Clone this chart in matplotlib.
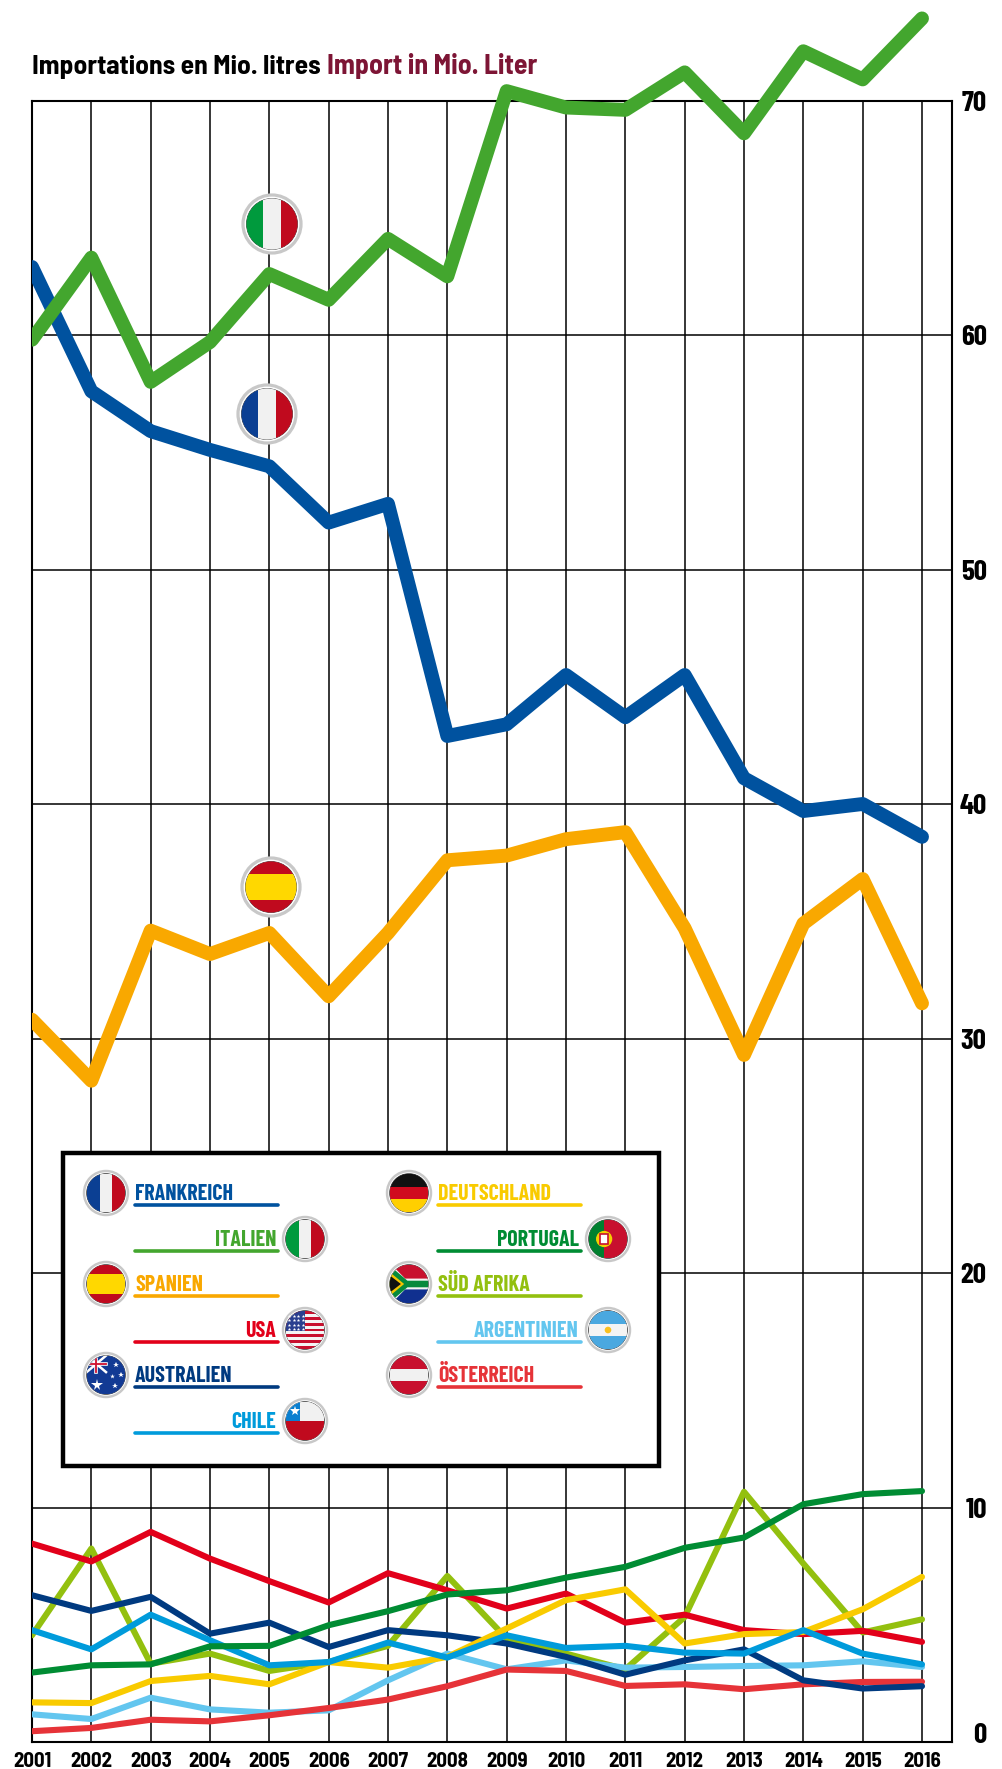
import numpy as np
import matplotlib
matplotlib.use("Agg")
import matplotlib.pyplot as plt
from matplotlib.patches import Circle, Rectangle, Polygon
from matplotlib.transforms import Bbox, TransformedBbox, ScaledTranslation

FONT = ["Barlow Condensed", "Archivo Narrow", "Liberation Sans", "DejaVu Sans"]
FONT_WIDE = ["Barlow Semi Condensed", "Barlow Condensed", "Liberation Sans", "DejaVu Sans"]

years = list(range(2001, 2017))
y_ticks = [0, 10, 20, 30, 40, 50, 60, 70]

italy = [59.8, 63.3, 58.0, 59.7, 62.6, 61.5, 64.1, 62.5, 70.4, 69.7, 69.6, 71.2, 68.6, 72.1, 70.9, 73.5]
france = [62.9, 57.6, 55.9, 55.1, 54.4, 52.0, 52.8, 42.9, 43.4, 45.5, 43.7, 45.5, 41.1, 39.7, 40.0, 38.6]
spain = [30.8, 28.2, 34.6, 33.6, 34.5, 31.8, 34.5, 37.6, 37.8, 38.5, 38.8, 34.7, 29.3, 34.9, 36.8, 31.5]
usa = [8.46, 7.7, 8.96, 7.82, 6.86, 5.95, 7.2, 6.47, 5.69, 6.33, 5.09, 5.43, 4.77, 4.6, 4.74, 4.27]
australia = [6.26, 5.59, 6.19, 4.62, 5.09, 4.05, 4.77, 4.55, 4.2, 3.63, 2.87, 3.48, 3.95, 2.63, 2.28, 2.38]
chile = [4.77, 3.95, 5.43, 4.34, 3.27, 3.41, 4.24, 3.6, 4.55, 4.01, 4.1, 3.81, 3.77, 4.77, 3.77, 3.31]
south_africa = [4.55, 8.25, 3.34, 3.77, 3.03, 3.41, 4.1, 7.08, 4.41, 3.77, 3.1, 5.33, 10.67, 7.61, 4.67, 5.23]
portugal = [2.96, 3.27, 3.31, 4.08, 4.1, 4.98, 5.58, 6.29, 6.47, 7.01, 7.47, 8.28, 8.72, 10.14, 10.57, 10.7]
germany = [1.69, 1.66, 2.6, 2.82, 2.46, 3.41, 3.17, 3.63, 4.84, 6.05, 6.51, 4.2, 4.6, 4.69, 5.66, 7.04]
argentina = [1.18, 0.98, 1.89, 1.39, 1.25, 1.35, 2.63, 3.77, 3.1, 3.48, 3.17, 3.2, 3.24, 3.27, 3.44, 3.2]
austria = [0.46, 0.6, 0.95, 0.88, 1.14, 1.45, 1.81, 2.38, 3.09, 3.03, 2.39, 2.46, 2.25, 2.46, 2.56, 2.57]

C_FR, C_IT, C_ES = "#00529f", "#43a62e", "#f9a800"
C_US, C_AU, C_CL = "#e2001a", "#003a80", "#009bdb"
C_DE, C_PT, C_ZA = "#f9cb00", "#008c33", "#93c00f"
C_AR, C_AT = "#63c6ef", "#e63338"

W, H = 1003, 1769
fig = plt.figure(figsize=(W / 100, H / 100), dpi=100, facecolor="white")

# main chart
ax = fig.add_axes([32 / W, 1 - 1742 / H, (952 - 32) / W, (1742 - 100.5) / H])
x_right = 2001 + (952 - 32) / ((922 - 32) / 15)
ax.set_xlim(2001, x_right)
ax.set_ylim(0, 70)
ax.set_xticks(years)
ax.set_yticks(y_ticks)
ax.grid(True, color="black", lw=1.1)
ax.set_axisbelow(True)
ax.tick_params(length=0)
ax.xaxis.tick_bottom()
ax.yaxis.tick_right()
ax.tick_params(axis="x", pad=7)
ax.tick_params(axis="y", pad=25)
for s in ax.spines.values():
    s.set_linewidth(1.5)
for lab in ax.get_xticklabels():
    lab.set(family=FONT_WIDE, weight="bold", fontsize=15)
for lab in ax.get_yticklabels():
    lab.set(family=FONT, weight="bold", fontsize=21, ha="right")
# the 0 label sits a little above the axis line
zero = ax.get_yticklabels()[0]
zero.set_transform(zero.get_transform() + ScaledTranslation(0, 9 / 100, fig.dpi_scale_trans))

# lines may run over the top of the frame but are cut at the left edge
clip = TransformedBbox(Bbox([[2001, -5], [2018, 90]]), ax.transData)


def draw(vals, color, lw):
    line, = ax.plot(years, vals, color=color, lw=lw, solid_capstyle="round",
                    solid_joinstyle="round", zorder=3)
    line.set_clip_box(clip)


for vals, color in [(south_africa, C_ZA), (argentina, C_AR), (austria, C_AT),
                    (usa, C_US), (australia, C_AU), (germany, C_DE),
                    (chile, C_CL), (portugal, C_PT)]:
    draw(vals, color, 4.4)
for vals, color in [(spain, C_ES), (france, C_FR), (italy, C_IT)]:
    draw(vals, color, 10)

# overlay in pixel coordinates for title, legend box and flags
ov = fig.add_axes([0, 0, 1, 1], zorder=5)
ov.set_xlim(0, W)
ov.set_ylim(H, 0)
ov.axis("off")
ov.patch.set_alpha(0)

ov.text(32, 74, "Importations en Mio. litres", family=FONT_WIDE, weight="bold",
        fontsize=19.7, color="black", va="baseline")
ov.text(327, 74, "Import in Mio. Liter", family=FONT_WIDE, weight="bold",
        fontsize=20, color="#7d1535", va="baseline")


def stripes(cx, cy, r, colors, clip_c, vertical=False, weights=None):
    weights = weights or [1] * len(colors)
    pos = -r
    total = sum(weights)
    for col, wt in zip(colors, weights):
        size = 2 * r * wt / total
        if vertical:
            p = Rectangle((cx + pos, cy - r), size, 2 * r, fc=col, lw=0, zorder=2.3)
        else:
            p = Rectangle((cx - r, cy + pos), 2 * r, size, fc=col, lw=0, zorder=2.3)
        ov.add_patch(p)
        p.set_clip_path(clip_c)
        pos += size


def add_clipped(p, clip_c):
    ov.add_patch(p)
    p.set_clip_path(clip_c)


def flag(cx, cy, R, kind):
    ov.add_patch(Circle((cx, cy), R, fc="white", ec="#c8c8c8", lw=R * 0.08, zorder=2.1))
    r = R * 0.88
    inner = Circle((cx, cy), r, fc="white", ec="#222222", lw=0.5, zorder=2.2)
    ov.add_patch(inner)
    if kind == "fr":
        stripes(cx, cy, r, ["#0b3f93", "#f1f1f1", "#c00a1e"], inner, True)
    elif kind == "it":
        stripes(cx, cy, r, ["#009a3d", "#f1f1f1", "#c00a1e"], inner, True)
    elif kind == "es":
        stripes(cx, cy, r, ["#c00a1e", "#ffd800", "#c00a1e"], inner, weights=[1, 2, 1])
    elif kind == "de":
        stripes(cx, cy, r, ["#111111", "#d00a1e", "#ffcf00"], inner)
    elif kind == "at":
        stripes(cx, cy, r, ["#c8102e", "#f1f1f1", "#c8102e"], inner)
    elif kind == "ar":
        stripes(cx, cy, r, ["#4aa8e0", "#f4f4f4", "#4aa8e0"], inner)
        ov.add_patch(Circle((cx, cy), r * 0.17, fc="#f8c020", lw=0, zorder=2.6))
    elif kind == "pt":
        stripes(cx, cy, r, ["#00802f", "#c8102e"], inner, True, [2, 3])
        dx = -r * 0.2
        ov.add_patch(Circle((cx + dx, cy), r * 0.42, fc="#f4d000", lw=0, zorder=2.6))
        ov.add_patch(Rectangle((cx + dx - r * 0.2, cy - r * 0.24), r * 0.4, r * 0.48,
                               fc="white", ec="#c8102e", lw=1.2, zorder=2.7))
    elif kind == "cl":
        stripes(cx, cy, r, ["#f1f1f1", "#c00a1e"], inner)
        add_clipped(Rectangle((cx - r, cy - r), r * 0.75, r, fc="#0a7fd0", lw=0, zorder=2.4), inner)
        ov.plot([cx - r * 0.5], [cy - r * 0.5], marker="*", ms=R * 0.35, color="white", mew=0, zorder=2.6)
    elif kind == "us":
        n = 13
        stripes(cx, cy, r, ["#c8102e" if i % 2 == 0 else "#f4f4f4" for i in range(n)], inner)
        add_clipped(Rectangle((cx - r, cy - r), r, r * 15 / 13 * 0.93, fc="#2a3f8f", lw=0, zorder=2.4), inner)
        for i in range(4):
            for j in range(4):
                ov.plot([cx - r * 0.82 + j * r * 0.24], [cy - r * 0.72 + i * r * 0.22], marker="*",
                        ms=R * 0.12, color="white", mew=0, zorder=2.6)
    elif kind == "au":
        stripes(cx, cy, r, ["#123a94"], inner)
        for a, b, lw_, col in [((-1, -1), (0, -0.15), 1.8, "white"), ((-1, -0.15), (0, -1), 1.8, "white"),
                               ((-1, -0.58), (0, -0.58), 2.6, "white"), ((-0.5, -1), (-0.5, -0.15), 2.6, "white"),
                               ((-1, -0.58), (0, -0.58), 1.3, "#d0102e"), ((-0.5, -1), (-0.5, -0.15), 1.3, "#d0102e")]:
            l, = ov.plot([cx + a[0] * r, cx + b[0] * r], [cy + a[1] * r, cy + b[1] * r],
                         color=col, lw=lw_ * R / 22, zorder=2.6)
            l.set_clip_path(inner)
        for sx, sy, ms in [(-0.45, 0.5, 0.38), (0.5, -0.5, 0.2), (0.75, 0.0, 0.2), (0.45, 0.55, 0.2), (0.3, 0.05, 0.16)]:
            ov.plot([cx + sx * r], [cy + sy * r], marker="*", ms=R * ms, color="white", mew=0, zorder=2.7)
    elif kind == "za":
        stripes(cx, cy, r, ["#c8102e", "#10308f"], inner)
        add_clipped(Polygon([(cx - r, cy - r * 1.1), (cx - r * 0.2, cy - r * 0.28), (cx + r, cy - r * 0.28),
                             (cx + r, cy + r * 0.28), (cx - r * 0.2, cy + r * 0.28), (cx - r, cy + r * 1.1)],
                            fc="#f4f4f4", lw=0, zorder=2.4), inner)
        add_clipped(Polygon([(cx - r, cy - r * 0.95), (cx - r * 0.08, cy - r * 0.17), (cx + r, cy - r * 0.17),
                             (cx + r, cy + r * 0.17), (cx - r * 0.08, cy + r * 0.17), (cx - r, cy + r * 0.95)],
                            fc="#078a3c", lw=0, zorder=2.5), inner)
        add_clipped(Polygon([(cx - r, cy - r * 0.62), (cx - r * 0.25, cy), (cx - r, cy + r * 0.62)],
                            fc="#f6c400", lw=0, zorder=2.6), inner)
        add_clipped(Polygon([(cx - r, cy - r * 0.45), (cx - r * 0.42, cy), (cx - r, cy + r * 0.45)],
                            fc="#111111", lw=0, zorder=2.7), inner)


# flags on the chart
flag(272, 224, 29, "it")
flag(267, 414, 29, "fr")
flag(271, 887, 29, "es")

# legend box
ov.add_patch(Rectangle((63, 1153), 596, 313, fc="white", ec="black", lw=3.2, zorder=1))

names_left = ["FRANKREICH", "ITALIEN", "SPANIEN", "USA", "AUSTRALIEN", "CHILE"]
colors_left = [C_FR, C_IT, C_ES, C_US, C_AU, C_CL]
kinds_left = ["fr", "it", "es", "us", "au", "cl"]
names_right = ["DEUTSCHLAND", "PORTUGAL", "SÜD AFRIKA", "ARGENTINIEN", "ÖSTERREICH"]
colors_right = [C_DE, C_PT, C_ZA, C_AR, C_AT]
kinds_right = ["de", "pt", "za", "ar", "at"]
rows = [1205, 1251, 1296, 1342, 1387, 1433]


def legend_column(names, colors, kinds, x0, x1, flag_l, flag_r):
    for i, (name, col, kind) in enumerate(zip(names, colors, kinds)):
        y = rows[i]
        ov.plot([x0, x1], [y, y], color=col, lw=2.6, solid_capstyle="round", zorder=2)
        if i % 2 == 0:
            ov.text(x0, y - 5, name, color=col, family=FONT, weight="bold", fontsize=15.8,
                    ha="left", va="baseline", zorder=2)
            flag(flag_l, y - 12, 22, kind)
        else:
            ov.text(x1 - 2, y - 5, name, color=col, family=FONT, weight="bold", fontsize=15.8,
                    ha="right", va="baseline", zorder=2)
            flag(flag_r, y - 12, 22, kind)


legend_column(names_left, colors_left, kinds_left, 135, 278, 106, 305)
legend_column(names_right, colors_right, kinds_right, 438, 581, 409, 608)

ov.set_xlim(0, W)
ov.set_ylim(H, 0)
fig.savefig("out.png", dpi=100)
